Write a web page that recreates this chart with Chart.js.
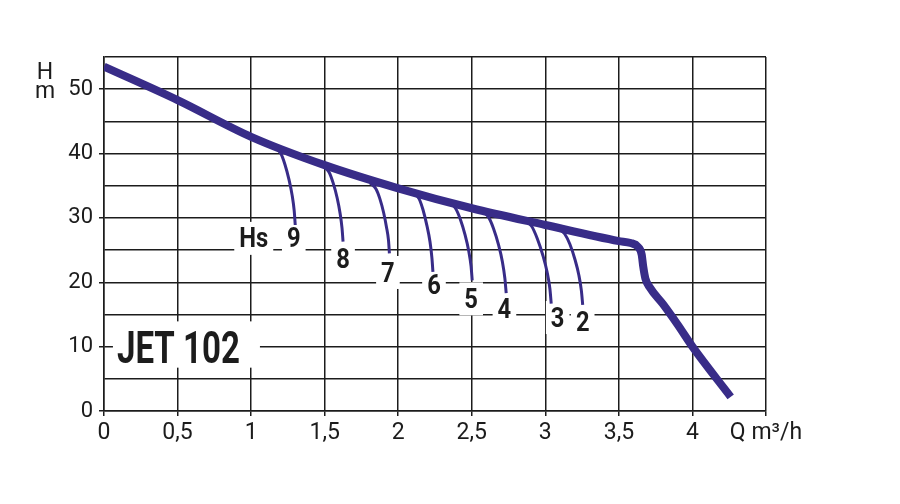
<!DOCTYPE html>
<html>
<head>
<meta charset="utf-8">
<script src="https://cdn.jsdelivr.net/npm/chart.js@4.4.1/dist/chart.umd.min.js"></script>
<style>
  html, body { margin: 0; padding: 0; background: #ffffff; }
  #wrap { width: 900px; height: 504px; }
</style>
</head>
<body>
<div id="wrap"><canvas id="c" width="900" height="504"></canvas></div>
<script>
// ---- Data ----
const qMain = [0, 0.5, 1, 1.5, 2, 2.5, 3, 3.5, 3.58, 3.63, 3.655, 3.665, 3.68, 3.71, 3.8, 3.9, 4.0, 4.26];
const hMain = [53.5, 48.3, 42.6, 38.2, 34.6, 31.5, 28.9, 26.4, 26.1, 25.5, 24.3, 22.5, 20.6, 19.2, 16.6, 13.4, 10.0, 2.2];

// Suction-lift branches (Hs = 9 ... 2 m)
const q9 = [1.16, 1.202, 1.23, 1.258, 1.279, 1.293, 1.30];
const h9 = [41.0, 40.0, 38.3, 35.9, 33.5, 31.1, 28.9];
const q8 = [1.49, 1.53, 1.558, 1.585, 1.605, 1.618, 1.625];
const h8 = [38.0, 37.1, 35.4, 33.1, 30.7, 28.4, 26.3];
const q7 = [1.81, 1.849, 1.875, 1.901, 1.92, 1.934, 1.94];
const h7 = [35.4, 34.5, 33.0, 30.8, 28.6, 26.5, 24.5];
const q6 = [2.10, 2.141, 2.168, 2.195, 2.216, 2.229, 2.236];
const h6 = [34.0, 33.0, 31.3, 28.8, 26.3, 23.8, 21.6];
const q5 = [2.34, 2.389, 2.422, 2.454, 2.479, 2.495, 2.503];
const h5 = [32.5, 31.5, 29.8, 27.4, 24.9, 22.5, 20.3];
const q4 = [2.56, 2.612, 2.647, 2.682, 2.708, 2.725, 2.734];
const h4 = [31.2, 30.2, 28.4, 25.8, 23.2, 20.6, 18.3];
const q3 = [2.85, 2.907, 2.945, 2.983, 3.012, 3.031, 3.04];
const h3 = [29.7, 28.7, 26.8, 24.2, 21.6, 19.0, 16.7];
const q2 = [3.08, 3.132, 3.167, 3.202, 3.228, 3.245, 3.254];
const h2 = [28.5, 27.5, 25.9, 23.5, 21.1, 18.7, 16.5];

// Curve labels (text + data position)
const hsLabels = ['Hs', '9', '8', '7', '6', '5', '4', '3', '2'];
const hsLabelQ = [1.018, 1.29, 1.625, 1.93, 2.243, 2.496, 2.722, 3.084, 3.254];
const hsLabelH = [26.9, 26.9, 23.7, 21.6, 19.6, 17.5, 15.9, 14.6, 13.9];

const modelName = 'JET 102';
const modelQ = 0.506;
const modelH = 9.94;

const yTitle = ['H', 'm'];
const xTitle = 'Q m³/h';

// ---- Styles ----
const CURVE = '#382c88';
const INK = '#1c1c1c';
const GRID = '#1c1c1c';

function pts(qs, hs) { return qs.map((q, i) => ({ x: q, y: hs[i] })); }

const branches = [[q9, h9], [q8, h8], [q7, h7], [q6, h6], [q5, h5], [q4, h4], [q3, h3], [q2, h2]];

const datasets = [
  {
    data: pts(qMain, hMain),
    borderColor: CURVE, borderWidth: 8, pointRadius: 0,
    cubicInterpolationMode: 'monotone', borderCapStyle: 'butt', borderJoinStyle: 'round'
  }
].concat(branches.map(b => ({
  data: pts(b[0], b[1]),
  borderColor: CURVE, borderWidth: 3, pointRadius: 0,
  cubicInterpolationMode: 'monotone', borderCapStyle: 'butt'
})));

function drawCondensed(ctx, text, cx, cy, size, weight, scaleX) {
  ctx.save();
  ctx.font = weight + ' ' + size + 'px Roboto';
  const cap = size * 0.711;
  ctx.translate(cx, cy + cap / 2);
  ctx.scale(scaleX, 1);
  ctx.textAlign = 'center';
  ctx.textBaseline = 'alphabetic';
  ctx.fillStyle = INK;
  ctx.fillText(text, 0, 0);
  ctx.restore();
}

const labelPlugin = {
  id: 'labels',
  beforeDatasetsDraw(chart) {
    const ctx = chart.ctx;
    const xs = chart.scales.x, ys = chart.scales.y;
    // curve labels
    const size = 27, sx = 0.88;
    hsLabels.forEach((t, i) => {
      const cx = xs.getPixelForValue(hsLabelQ[i]);
      const cy = ys.getPixelForValue(hsLabelH[i]);
      ctx.font = 'bold ' + size + 'px Roboto';
      const w = ctx.measureText(t).width * sx;
      ctx.fillStyle = '#ffffff';
      ctx.fillRect(cx - w / 2 - 5, cy - 16, w + 10, 33);
    });
    hsLabels.forEach((t, i) => {
      const cx = xs.getPixelForValue(hsLabelQ[i]);
      const cy = ys.getPixelForValue(hsLabelH[i]);
      drawCondensed(ctx, t, cx, cy, size, 'bold', sx);
    });
    // model name
    const mSize = 44;
    ctx.font = 'bold ' + mSize + 'px Roboto';
    const raw = ctx.measureText(modelName).width;
    const mScale = 123 / raw;
    const mcx = xs.getPixelForValue(modelQ);
    const mcy = ys.getPixelForValue(modelH);
    const halfW = raw * mScale / 2;
    const cap = mSize * 0.711;
    ctx.fillStyle = '#ffffff';
    ctx.fillRect(mcx - halfW - 4, mcy - cap / 2 - 10, halfW * 2 + 24, cap + 15);
    drawCondensed(ctx, modelName, mcx, mcy, mSize, 'bold', mScale);
  },
  afterDraw(chart) {
    const ctx = chart.ctx;
    const left = chart.chartArea.left;
    const top = chart.chartArea.top;
    ctx.save();
    ctx.font = '23px Roboto';
    ctx.fillStyle = INK;
    ctx.textAlign = 'center';
    ctx.textBaseline = 'alphabetic';
    ctx.fillText(yTitle[0], left - 59, top + 22);
    ctx.fillText(yTitle[1], left - 59, top + 41);
    ctx.restore();
  }
};

new Chart(document.getElementById('c'), {
  type: 'line',
  data: { datasets: datasets },
  options: {
    responsive: false,
    animation: false,
    events: [],
    layout: { padding: { top: 57, right: 134, left: 0, bottom: 0 } },
    plugins: { legend: { display: false }, tooltip: { enabled: false } },
    scales: {
      x: {
        type: 'linear', min: 0, max: 4.5,
        afterFit(s) { s.height = 93; },
        ticks: {
          stepSize: 0.5, autoSkip: false, maxRotation: 0, padding: 3,
          color: INK, font: { family: 'Roboto', size: 23 },
          callback: v => (Math.abs(v - 4.5) < 1e-9 ? xTitle : String(v).replace('.', ','))
        },
        grid: { color: GRID, lineWidth: 1.5, tickLength: 5, tickColor: GRID },
        border: { display: true, color: GRID, width: 1.5 }
      },
      y: {
        type: 'linear', min: 0, max: 55,
        afterFit(s) { s.width = 104; },
        ticks: {
          stepSize: 5, autoSkip: false, padding: 6,
          color: INK, font: { family: 'Roboto', size: 22 },
          callback: v => (v % 10 === 0 ? String(v) : '')
        },
        grid: {
          color: GRID, lineWidth: 1.5, tickLength: 5,
          tickColor: c => (c.tick && c.tick.value % 10 === 0 ? GRID : 'rgba(0,0,0,0)')
        },
        border: { display: true, color: GRID, width: 1.5 }
      }
    }
  },
  plugins: [labelPlugin]
});
</script>
</body>
</html>
